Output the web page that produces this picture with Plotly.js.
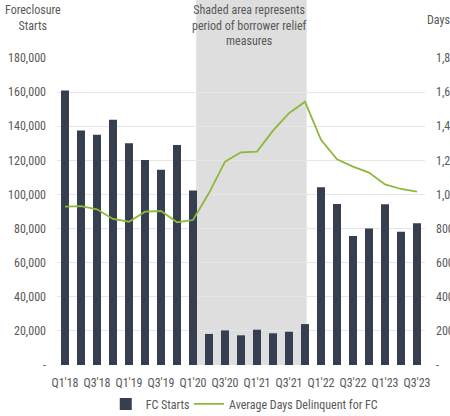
<!DOCTYPE html>
<html><head><meta charset="utf-8">
<script src="https://cdn.plot.ly/plotly-3.0.1.min.js"></script>
<style>html,body{margin:0;padding:0;background:#fff}#c{width:450px;height:416px}</style>
</head><body><div id="c"></div>
<script>
const quarters = ["Q1'18","Q2'18","Q3'18","Q4'18","Q1'19","Q2'19","Q3'19","Q4'19","Q1'20","Q2'20","Q3'20","Q4'20","Q1'21","Q2'21","Q3'21","Q4'21","Q1'22","Q2'22","Q3'22","Q4'22","Q1'23","Q2'23","Q3'23"];
const fcStarts = [161000,137500,135000,143800,130000,120200,114500,129000,102300,18200,20300,17400,20700,18600,19500,24000,104200,94400,75600,80100,94200,78200,83100];
const avgDays = [928,932,913,856,840,899,903,837,850,1008,1192,1247,1251,1374,1476,1544,1320,1206,1163,1128,1059,1032,1016];
const shownTicks = ["Q1'18","Q3'18","Q1'19","Q3'19","Q1'20","Q3'20","Q1'21","Q3'21","Q1'22","Q3'22","Q1'23","Q3'23"];
const leftVals = [0,20000,40000,60000,80000,100000,120000,140000,160000,180000];
const leftText = ["-","20,000","40,000","60,000","80,000","100,000","120,000","140,000","160,000","180,000"];
const rightVals = [0,200,400,600,800,1000,1200,1400,1600,1800];
const rightText = ["-","200","400","600","800","1,000","1,200","1,400","1,600","1,800"];
const shadeFrom = 8.2, shadeTo = 15.1;

const F = "Liberation Sans Narrow, Roboto Condensed, Arial Narrow, Liberation Sans, sans-serif";
const gray = "#595959";

const traces = [
  {type:'bar', x:quarters, y:fcStarts, name:'FC Starts', marker:{color:'#353f4f'}, yaxis:'y', legend:'legend'},
  {type:'scatter', mode:'lines', x:quarters, y:avgDays, name:'Average Days Delinquent for FC', line:{color:'#8db83c', width:1.8}, yaxis:'y2', legend:'legend2'}
];
const legBase = {orientation:'h', xref:'container', xanchor:'left', y:0.029, yref:'container', yanchor:'middle', font:{family:F, size:12, color:gray}, itemwidth:30, bgcolor:'rgba(0,0,0,0)'};
const layout = {
  width:450, height:416,
  margin:{l:57, r:25, t:58, b:51},
  paper_bgcolor:'#fff', plot_bgcolor:'rgba(0,0,0,0)',
  font:{family:F, size:12, color:gray},
  bargap:0.5,
  showlegend:true,
  legend:Object.assign({}, legBase, {x:0.235}),
  legend2:Object.assign({}, legBase, {x:0.42}),
  xaxis:{type:'category', range:[-0.5,22.5], tickvals:shownTicks, ticktext:shownTicks, showgrid:false, zeroline:false, showline:false, ticks:'', tickfont:{family:F,size:12,color:gray}, ticklabelstandoff:9},
  yaxis:{range:[0,180000], tickvals:leftVals, ticktext:leftText, showgrid:true, gridcolor:'#e6e6e6', gridwidth:1, zeroline:false, showline:false, ticks:'', tickfont:{family:F,size:12,color:gray}, ticklabelstandoff:10},
  yaxis2:{overlaying:'y', side:'right', range:[0,1800], tickvals:rightVals, ticktext:rightText, showgrid:false, zeroline:false, showline:false, ticks:'', tickfont:{family:F,size:12,color:gray}, ticklabelstandoff:10},
  shapes:[
    {type:'rect', xref:'x', yref:'paper', x0:shadeFrom, x1:shadeTo, y0:0, y1:1.19, fillcolor:'#dedede', line:{width:0}, layer:'below'}
  ],
  annotations:[
    {xref:'paper', yref:'paper', x:-0.065, y:1.185, text:'Foreclosure<br>Starts', showarrow:false, align:'center', xanchor:'center', yanchor:'top', font:{family:F,size:12,color:gray}},
    {xref:'paper', yref:'paper', x:1.038, y:1.125, text:'Days', showarrow:false, xanchor:'center', yanchor:'middle', font:{family:F,size:12,color:gray}},
    {xref:'x', yref:'paper', x:(shadeFrom+shadeTo)/2 - 0.15, y:1.185, text:'Shaded area represents<br>period of borrower relief<br>measures', showarrow:false, align:'center', xanchor:'center', yanchor:'top', font:{family:F,size:12,color:gray}}
  ]
};
Plotly.newPlot('c', traces, layout, {displayModeBar:false, staticPlot:true});
</script></body></html>
